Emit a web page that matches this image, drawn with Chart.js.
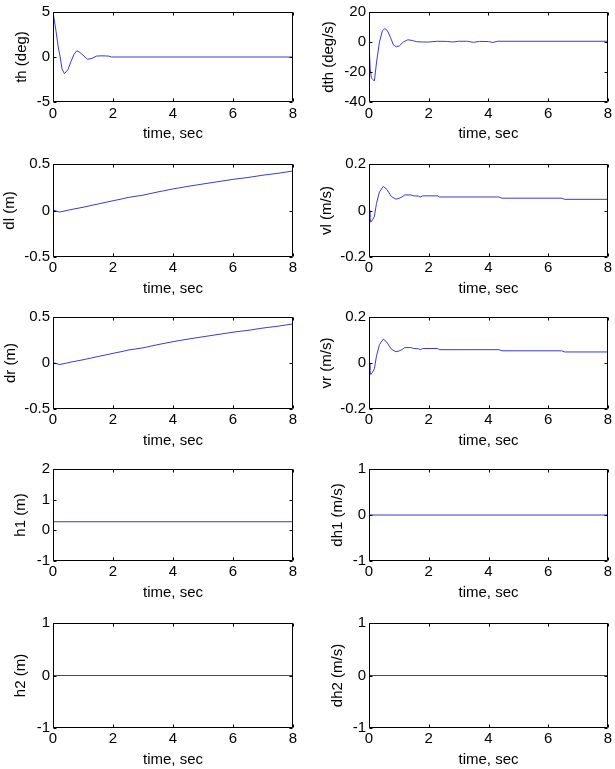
<!DOCTYPE html>
<html>
<head>
<meta charset="utf-8">
<script src="https://cdn.jsdelivr.net/npm/chart.js@4.4.0/dist/chart.umd.min.js"></script>
<style>
html, body { margin: 0; padding: 0; background: #fff; width: 615px; height: 769px; overflow: hidden; }
canvas { position: absolute; }
</style>
</head>
<body>
<script>
// x axis ticks (seconds)
const xTicks = [0, 2, 4, 6, 8];

// th (deg)
const thTime = [0, 0.1, 0.18, 0.24, 0.3, 0.38, 0.5, 0.6, 0.7, 0.8, 0.9, 1.0, 1.15, 1.3, 1.45, 1.6, 1.75, 1.85, 1.95, 8];
const thDeg  = [5, 2.9, 1.0, 0.0, -1.3, -1.85, -1.4, -0.5, 0.3, 0.7, 0.5, 0.2, -0.25, -0.15, 0.1, 0.13, 0.12, 0.1, 0, 0];

// dth (deg/s)
const dthTime = [0, 0.04, 0.08, 0.13, 0.18, 0.25, 0.35, 0.45, 0.53, 0.62, 0.72, 0.82, 0.92, 1.02, 1.15, 1.3, 1.45, 1.6, 1.8, 2.0, 2.3, 2.6, 2.8, 3.0, 3.3, 3.5, 3.7, 4.0, 4.15, 4.3, 8];
const dthVal  = [0, -18, -24, -25, -26, -14, 0, 7.5, 9, 7.5, 3, -2, -3.2, -2.5, 0, 1.5, 1, 0.2, 0, 0, 0.5, 0.4, 0, 0.5, 0.5, -0.2, 0.4, 0.3, -0.3, 0.5, 0.5];

// dl (m) and dr (m)
const dlTime = [0, 0.1, 0.22, 0.6, 1.0, 1.5, 2.0, 2.3, 2.5, 3.0, 3.5, 4.0, 4.5, 5.0, 5.5, 6.0, 6.5, 7.0, 7.5, 8.0];
const dlVal  = [0.005, -0.005, -0.017, 0.01, 0.035, 0.07, 0.105, 0.125, 0.14, 0.165, 0.2, 0.232, 0.26, 0.285, 0.31, 0.335, 0.355, 0.38, 0.4, 0.425];
const drTime = [0, 0.1, 0.22, 0.6, 1.0, 1.5, 2.0, 2.3, 2.5, 3.0, 3.5, 4.0, 4.5, 5.0, 5.5, 6.0, 6.5, 7.0, 7.5, 8.0];
const drVal  = [0.005, -0.005, -0.017, 0.01, 0.035, 0.07, 0.105, 0.125, 0.14, 0.165, 0.2, 0.232, 0.26, 0.285, 0.31, 0.335, 0.355, 0.38, 0.4, 0.425];

// vl (m/s) and vr (m/s)
const vlTime = [0, 0.03, 0.06, 0.12, 0.18, 0.25, 0.35, 0.48, 0.6, 0.75, 0.9, 1.0, 1.1, 1.2, 1.4, 1.5, 1.65, 1.72, 1.8, 2.3, 2.35, 4.35, 4.45, 6.45, 6.55, 8];
const vlVal  = [0, -0.03, -0.05, -0.04, -0.025, 0.03, 0.08, 0.104, 0.09, 0.06, 0.049, 0.052, 0.058, 0.067, 0.067, 0.063, 0.062, 0.058, 0.063, 0.063, 0.058, 0.058, 0.053, 0.053, 0.048, 0.048];
const vrTime = [0, 0.03, 0.06, 0.12, 0.18, 0.25, 0.35, 0.48, 0.6, 0.75, 0.9, 1.0, 1.1, 1.2, 1.4, 1.5, 1.65, 1.72, 1.8, 2.3, 2.35, 4.35, 4.45, 6.45, 6.55, 8];
const vrVal  = [0, -0.03, -0.05, -0.04, -0.025, 0.03, 0.08, 0.104, 0.09, 0.06, 0.049, 0.052, 0.058, 0.067, 0.067, 0.063, 0.062, 0.058, 0.063, 0.063, 0.058, 0.058, 0.053, 0.053, 0.048, 0.048];

// h1, dh1, h2, dh2
const h1Time = [0, 8];   const h1Val  = [0.28, 0.28];
const dh1Time = [0, 8];  const dh1Val = [0, 0];
const h2Time = [0, 8];   const h2Val  = [0, 0];
const dh2Time = [0, 8];  const dh2Val = [0, 0];

// y tick labels
const thTicks  = [-5, 0, 5];
const dthTicks = [-40, -20, 0, 20];
const dTicks   = [-0.5, 0, 0.5];
const vTicks   = [-0.2, 0, 0.2];
const h1Ticks  = [-1, 0, 1, 2];
const unitTicks = [-1, 0, 1];

const panels = [
    { label: 'th (deg)',    t: thTime,  y: thDeg,  ticks: thTicks },
    { label: 'dth (deg/s)', t: dthTime, y: dthVal, ticks: dthTicks },
    { label: 'dl (m)',      t: dlTime,  y: dlVal,  ticks: dTicks },
    { label: 'vl (m/s)',    t: vlTime,  y: vlVal,  ticks: vTicks },
    { label: 'dr (m)',      t: drTime,  y: drVal,  ticks: dTicks },
    { label: 'vr (m/s)',    t: vrTime,  y: vrVal,  ticks: vTicks },
    { label: 'h1 (m)',      t: h1Time,  y: h1Val,  ticks: h1Ticks },
    { label: 'dh1 (m/s)',   t: dh1Time, y: dh1Val, ticks: unitTicks },
    { label: 'h2 (m)',      t: h2Time,  y: h2Val,  ticks: unitTicks },
    { label: 'dh2 (m/s)',   t: dh2Time, y: dh2Val, ticks: unitTicks }
];

// layout of the subplot grid
const colLeft = [0, 300];
const colWidth = [300, 315];
const yAxisW = [53, 69];
const rowTop = [9, 161, 314, 466, 620];
const rowH = [93, 96, 95, 95, 108];
const yTitlePad = [13, 20, 1, 18, 1.5, 18, 12, 28.5, 12, 28.5];
const padTop = 9, xAxisH = 45;

Chart.defaults.font.family = "'Liberation Sans', Arial, sans-serif";
Chart.defaults.font.size = 15;
Chart.defaults.color = '#000';

// MATLAB-like box with inward ticks
const matlabBox = {
    id: 'matlabBox',
    afterDatasetsDraw(chart) {
        const { ctx, chartArea: a, scales } = chart;
        const L = Math.round(a.left) + 0.5, R = Math.round(a.right) - 0.5;
        const T = Math.round(a.top) + 0.5, B = Math.round(a.bottom) - 0.5;
        ctx.save();
        ctx.strokeStyle = '#000';
        ctx.lineWidth = 1;
        ctx.beginPath();
        ctx.rect(L, T, R - L, B - T);
        scales.x.ticks.forEach(tk => {
            const px = Math.round(scales.x.getPixelForValue(tk.value)) + 0.5;
            ctx.moveTo(px, B); ctx.lineTo(px, B - 3);
            ctx.moveTo(px, T); ctx.lineTo(px, T + 3);
        });
        scales.y.ticks.forEach(tk => {
            const py = Math.round(scales.y.getPixelForValue(tk.value)) + 0.5;
            ctx.moveTo(L, py); ctx.lineTo(L + 3, py);
            ctx.moveTo(R, py); ctx.lineTo(R - 3, py);
        });
        ctx.stroke();
        ctx.restore();
    }
};

panels.forEach((p, i) => {
    const col = i % 2, row = Math.floor(i / 2);
    const cv = document.createElement('canvas');
    cv.width = colWidth[col];
    cv.height = padTop + rowH[row] + xAxisH;
    cv.style.left = colLeft[col] + 'px';
    cv.style.top = (rowTop[row] - padTop) + 'px';
    document.body.appendChild(cv);

    new Chart(cv, {
        type: 'line',
        data: {
            datasets: [{
                data: p.t.map((t, k) => ({ x: t, y: p.y[k] })),
                borderColor: '#3a3ad8',
                borderWidth: 1,
                pointRadius: 0,
                tension: 0,
                fill: false
            }]
        },
        options: {
            responsive: false,
            animation: false,
            devicePixelRatio: 1,
            layout: { padding: { top: padTop, right: colLeft[col] + colWidth[col] - (col ? 608 : 293), left: 0, bottom: 0 } },
            plugins: { legend: { display: false }, tooltip: { enabled: false } },
            scales: {
                x: {
                    type: 'linear',
                    min: xTicks[0],
                    max: xTicks[xTicks.length - 1],
                    afterBuildTicks: s => { s.ticks = xTicks.map(v => ({ value: v })); },
                    afterFit: s => { s.height = xAxisH; },
                    grid: { display: false, drawTicks: false, tickLength: 0 },
                    border: { display: false },
                    ticks: { padding: row === 0 ? 3 : 2, maxRotation: 0, autoSkip: false, callback: v => String(v) },
                    title: { display: true, text: 'time, sec', padding: { top: 0, bottom: 4 } }
                },
                y: {
                    type: 'linear',
                    min: p.ticks[0],
                    max: p.ticks[p.ticks.length - 1],
                    afterBuildTicks: s => { s.ticks = p.ticks.map(v => ({ value: v })); },
                    afterFit: s => { s.width = yAxisW[col]; },
                    grid: { display: false, drawTicks: false, tickLength: 0 },
                    border: { display: false },
                    ticks: { padding: 3, autoSkip: false, callback: v => String(v) },
                    title: { display: true, text: p.label, padding: { top: yTitlePad[i], bottom: 0 } }
                }
            }
        },
        plugins: [matlabBox]
    });
});
</script>
</body>
</html>
